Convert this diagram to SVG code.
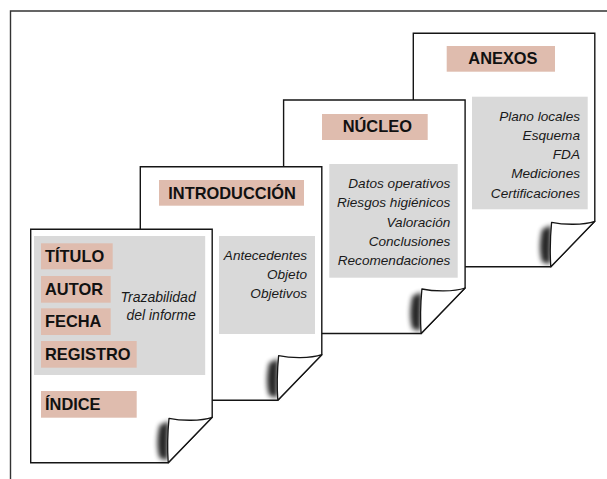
<svg xmlns="http://www.w3.org/2000/svg" xmlns:xlink="http://www.w3.org/1999/xlink" width="607" height="479" viewBox="0 0 607 479">
<style>
.page{fill:#fff;stroke:#151515;stroke-width:1.4;stroke-linejoin:miter}
.flap{fill:#fff;stroke:#151515;stroke-width:1.3;stroke-linejoin:round}
.shadow{fill:#000;opacity:0.85}
.gray{fill:#d9d9d9}
.pink{fill:#dfbcae}
.lab{font-family:"Liberation Sans",Arial,Helvetica,sans-serif;font-weight:bold;font-size:16.4px;fill:#111}
.it{font-family:"Liberation Sans",Arial,Helvetica,sans-serif;font-style:italic;font-size:13.6px;fill:#1a1a1a;text-anchor:end}
</style>
<defs>
<filter id="blur" x="-1" y="-1" width="3" height="3"><feGaussianBlur stdDeviation="2.6"/></filter>
<path id="pg" d="M0,0 H181.5 V188 L137.5,233.5 H0 Z"/>
<path id="sh" d="M138,192 L129,196 C126,208 126,220 129,229 L137,231 Z"/>
<path id="fl" d="M181.5,188 C170,192 150,191.5 138.3,189 C136.8,205 136.6,220 137.5,233.5 Z"/>
</defs>
<rect x="0" y="0" width="607" height="479" fill="#fff"/>
<path d="M10.5,479 V11 H607" fill="none" stroke="#333" stroke-width="1.4"/>

<g id="anexos">
<use xlink:href="#pg" x="413.3" y="33.3" class="page"/>
<use xlink:href="#sh" x="413.3" y="33.3" class="shadow" filter="url(#blur)"/>
<use xlink:href="#fl" x="413.3" y="33.3" class="flap"/>
<rect class="pink" x="446.7" y="46" width="108.3" height="25.7"/>
<text class="lab" x="468.3" y="64">ANEXOS</text>
<rect class="gray" x="472" y="96.7" width="115.7" height="112.6"/>
<text class="it" x="580" y="121">Plano locales</text>
<text class="it" x="580" y="140">Esquema</text>
<text class="it" x="580" y="159.3">FDA</text>
<text class="it" x="580" y="178.3">Mediciones</text>
<text class="it" x="580" y="197.7">Certificaciones</text>
</g>

<g id="nucleo">
<use xlink:href="#pg" x="283.6" y="100" class="page"/>
<use xlink:href="#sh" x="283.6" y="100" class="shadow" filter="url(#blur)"/>
<use xlink:href="#fl" x="283.6" y="100" class="flap"/>
<rect class="pink" x="322" y="114" width="105.7" height="26"/>
<text class="lab" x="342.7" y="131.7">NÚCLEO</text>
<rect class="gray" x="329.3" y="164" width="128.4" height="113.7"/>
<text class="it" x="450.3" y="188.3">Datos operativos</text>
<text class="it" x="450.3" y="207.3">Riesgos higiénicos</text>
<text class="it" x="450.3" y="226.7">Valoración</text>
<text class="it" x="450.3" y="246">Conclusiones</text>
<text class="it" x="450.3" y="265">Recomendaciones</text>
</g>

<g id="introduccion">
<use xlink:href="#pg" x="140.3" y="166.7" class="page"/>
<use xlink:href="#sh" x="140.3" y="166.7" class="shadow" filter="url(#blur)"/>
<use xlink:href="#fl" x="140.3" y="166.7" class="flap"/>
<rect class="pink" x="159" y="180" width="145" height="25.7"/>
<text class="lab" x="168.3" y="199">INTRODUCCIÓN</text>
<rect class="gray" x="219" y="236" width="96" height="98"/>
<text class="it" x="307" y="260">Antecedentes</text>
<text class="it" x="307" y="279.3">Objeto</text>
<text class="it" x="307" y="298.3">Objetivos</text>
</g>

<g id="portada">
<use xlink:href="#pg" x="30.7" y="229.3" class="page"/>
<use xlink:href="#sh" x="30.7" y="229.3" class="shadow" filter="url(#blur)"/>
<use xlink:href="#fl" x="30.7" y="229.3" class="flap"/>
<rect class="gray" x="34" y="236" width="171.2" height="139"/>
<rect class="pink" x="41" y="243.3" width="71.7" height="26"/>
<text class="lab" x="45" y="262.3">TÍTULO</text>
<rect class="pink" x="41" y="276" width="69.7" height="26.7"/>
<text class="lab" x="45" y="295.3">AUTOR</text>
<rect class="pink" x="41" y="308.3" width="69.7" height="26.7"/>
<text class="lab" x="45" y="327.3">FECHA</text>
<rect class="pink" x="41" y="341" width="95.7" height="26.7"/>
<text class="lab" x="45" y="360">REGISTRO</text>
<text class="it" x="195.7" y="301.7" style="font-size:14px">Trazabilidad</text>
<text class="it" x="195.7" y="320" style="font-size:14px">del informe</text>
<rect class="pink" x="41" y="391" width="95.7" height="26.7"/>
<text class="lab" x="45" y="410">ÍNDICE</text>
</g>
</svg>
